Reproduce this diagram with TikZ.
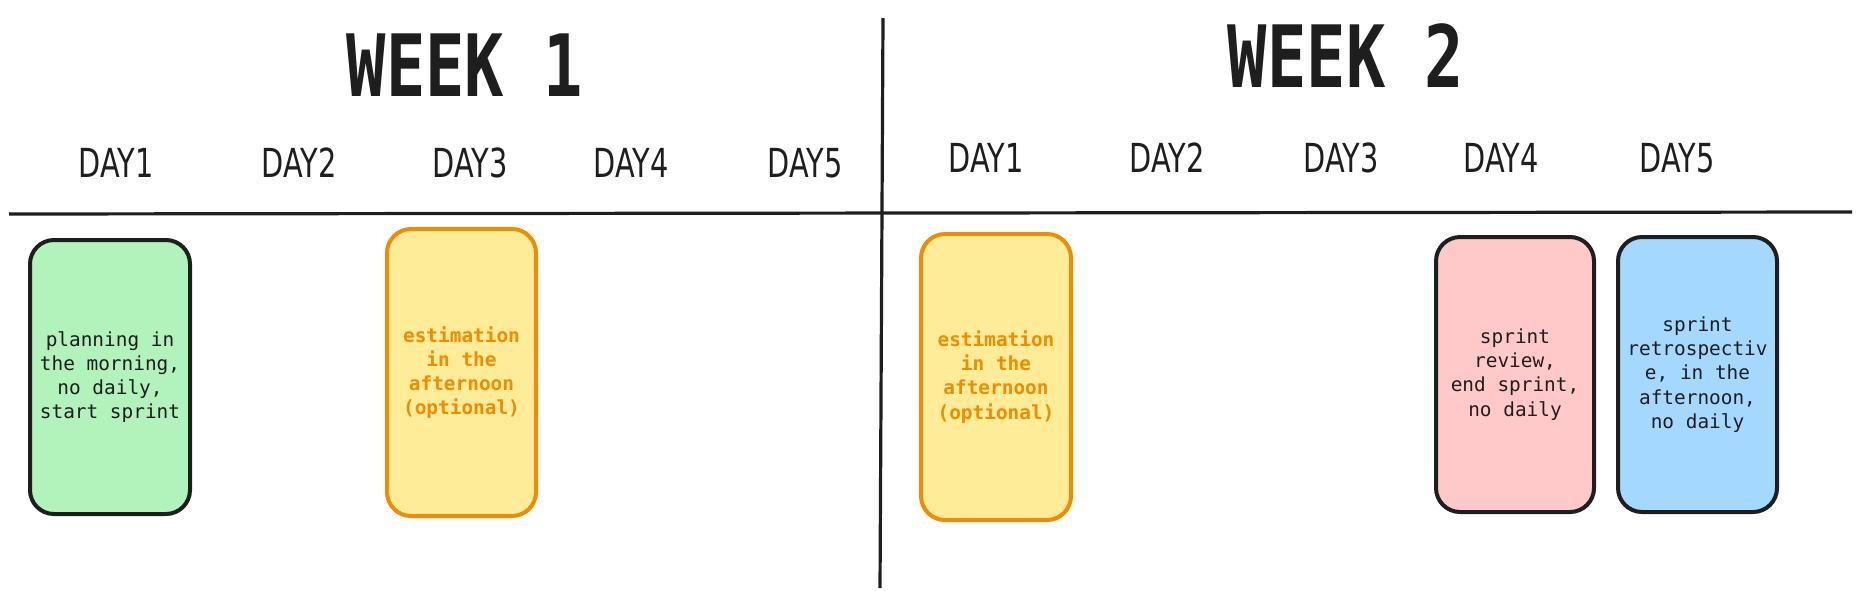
\documentclass[tikz,border=0pt]{standalone}
\usepackage{fontspec}
\setmonofont{DejaVu Sans Mono}
\newfontfamily\titlefont[FakeStretch=0.76]{DejaVu Sans Mono Bold}
\newfontfamily\dayfont[FakeStretch=0.72]{DejaVu Sans}
\definecolor{inkdark}{HTML}{1E1E1E}
\definecolor{cardgreen}{HTML}{B2F2BB}
\definecolor{cardyellow}{HTML}{FFEC99}
\definecolor{cardorange}{HTML}{F08C00}
\definecolor{cardpink}{HTML}{FFC9C9}
\definecolor{cardblue}{HTML}{A5D8FF}
\usetikzlibrary{positioning}

\begin{document}
\begin{tikzpicture}[x=0.5pt,y=-0.5pt,
    week/.style={text=inkdark,font=\titlefont\fontsize{43}{43}\selectfont},
    day/.style={text=inkdark,font=\dayfont\fontsize{20}{20}\selectfont},
    card/.style={draw=inkdark,line width=2pt,rounded corners=12pt,align=center,
      text=inkdark,inner sep=2pt,font=\ttfamily\fontsize{9.7}{12.1}\selectfont},
    optcard/.style={card,draw=cardorange,fill=cardyellow,text=cardorange,
      font=\ttfamily\bfseries\fontsize{9.7}{12.1}\selectfont},
    divider/.style={inkdark,line width=1.6pt}]
  \useasboundingbox (0,0) rectangle (1861,590);
  % titles
  \node[week] (w1) at (465,65) {WEEK 1};
  \node[week] (w2) at (1346,56) {WEEK 2};
  % day labels
  \foreach \x [count=\i] in {116,299,470,631,805}
    \node[day] (a\i) at (\x,163) {DAY\i};
  \foreach \x [count=\i] in {986,1167,1341,1501,1677}
    \node[day] (b\i) at (\x,158) {DAY\i};
  % dividers
  \coordinate (hl) at (9,214);
  \coordinate (hr) at (1852,212);
  \coordinate (vt) at (883,18);
  \coordinate (vb) at (880,588);
  \draw[divider] (hl) -- (hr);
  \draw[divider] (vt) -- (vb);
  % cards
  \node[card,fill=cardgreen,minimum width=80pt,minimum height=137pt] (plan) at (110,377)
    {planning in\\the morning,\\no daily,\\start sprint};
  \node[optcard,minimum width=74.5pt,minimum height=143.5pt] (est1) at (461.5,372.5)
    {estimation\\in the\\afternoon\\(optional)};
  \node[optcard,minimum width=75pt,minimum height=143pt] (est2) at (996,377)
    {estimation\\in the\\afternoon\\(optional)};
  \node[card,fill=cardpink,minimum width=79pt,minimum height=137.5pt] (review) at (1515,374.5)
    {sprint\\review,\\end sprint,\\no daily};
  \node[card,fill=cardblue,minimum width=79.5pt,minimum height=137.5pt] (retro) at (1697.5,374.5)
    {sprint\\retrospectiv\\e, in the\\afternoon,\\no daily};
\end{tikzpicture}
\end{document}
